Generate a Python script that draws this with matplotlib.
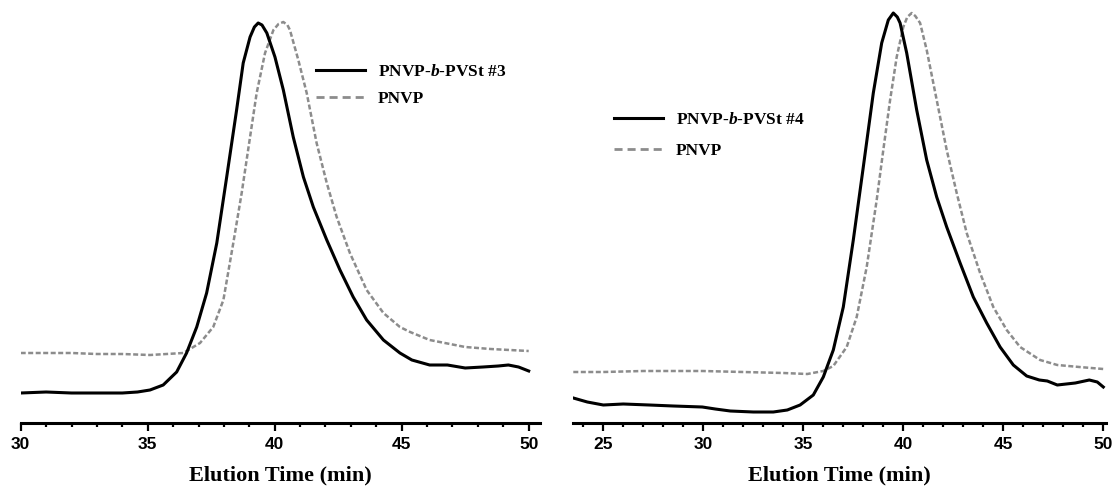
#!/usr/bin/env python3
"""SEC traces: PNVP-b-PVSt block copolymers vs. PNVP precursor."""

import matplotlib

matplotlib.use("Agg")
import matplotlib.pyplot as plt
from matplotlib.lines import Line2D
from matplotlib.ticker import MultipleLocator

# ---- data (elution time in min, detector signal in a.u.) ----
t_bc3 = [30.0, 31.0, 32.0, 33.0, 34.0, 34.6, 35.09, 35.61, 36.14, 36.53, 36.93, 37.32, 37.72,
         38.11, 38.5, 38.76, 39.03, 39.2, 39.35, 39.5, 39.69, 40.01, 40.34, 40.73, 41.13,
         41.52, 42.05, 42.57, 43.09, 43.62, 44.28, 44.93, 45.4, 46.1, 46.8, 47.5, 48.2,
         48.8, 49.2, 49.6, 50.0]
s_bc3 = [30, 31, 30, 30, 30, 31, 33, 38, 51, 70, 96, 130, 180,
         246, 313, 360, 386, 396, 400, 398, 390, 366, 333, 286, 246,
         216, 183, 153, 126, 103, 83, 70, 63, 58, 58, 55, 56,
         57, 58, 56, 52]

t_pnvp_a = [30.0, 31.0, 32.0, 33.0, 34.0, 35.09, 36.4, 37.06, 37.58, 37.98, 38.37, 38.7, 39.03,
            39.29, 39.62, 39.95, 40.15, 40.34, 40.5, 40.6, 40.93, 41.26, 41.65, 42.05, 42.44,
            42.96, 43.62, 44.28, 44.93, 45.33, 46.1, 47.5, 48.5, 50.0]
s_pnvp_a = [70, 70, 70, 69, 69, 68, 70, 80, 96, 123, 180, 230, 286,
            330, 370, 393, 399, 401, 398, 393, 363, 330, 280, 240, 206,
            170, 133, 110, 96, 91, 83, 76, 74, 72]

t_bc4 = [23.5, 24.2, 25.0, 26.0, 27.3, 28.5, 29.95, 30.6, 31.35, 32.5, 33.5, 34.2, 34.84,
         35.5, 36.0, 36.5, 37.0, 37.5, 38.0, 38.5, 38.92, 39.25, 39.5, 39.7, 39.84, 40.17,
         40.67, 41.17, 41.67, 42.17, 42.84, 43.5, 44.17, 44.84, 45.5, 46.17, 46.8, 47.2,
         47.7, 48.6, 49.3, 49.7, 50.0]
s_bc4 = [25, 21, 18, 19, 18, 17, 16, 14, 12, 11, 11, 13, 18,
         28, 46, 73, 116, 183, 256, 330, 380, 403, 410, 406, 400, 370,
         313, 263, 226, 196, 160, 126, 100, 76, 58, 47, 43, 42,
         38, 40, 43, 41, 36]

t_pnvp_b = [23.5, 25.0, 27.0, 29.95, 32.0, 34.0, 35.2, 36.0, 36.5, 37.17, 37.67, 38.17, 38.67,
            39.0, 39.34, 39.67, 40.0, 40.2, 40.42, 40.6, 40.84, 41.17, 41.67, 42.17, 42.67,
            43.17, 43.84, 44.5, 45.17, 45.84, 46.84, 47.7, 48.8, 50.0]
s_pnvp_b = [51, 51, 52, 52, 51, 50, 49, 52, 57, 76, 106, 156, 223,
            273, 323, 366, 396, 406, 410, 407, 400, 373, 323, 273, 230,
            190, 150, 116, 93, 76, 63, 58, 56, 54]

labels_left = ["PNVP-$\\mathit{b}$-PVSt #3", "PNVP"]
labels_right = ["PNVP-$\\mathit{b}$-PVSt #4", "PNVP"]

W, H = 1118, 492
plt.rcParams["mathtext.fontset"] = "custom"
plt.rcParams["mathtext.it"] = "Liberation Serif:italic:bold"
plt.rcParams["mathtext.rm"] = "Liberation Serif:bold"

GRAY = "#8c8c8c"


def px_axes(fig, x0, x1, y_axis):
    return fig.add_axes([x0 / W, (H - y_axis) / H, (x1 - x0) / W, y_axis / H])


def style(ax, xlim):
    ax.set_xlim(*xlim)
    ax.set_ylim(0, 423)
    for s in ("top", "left", "right"):
        ax.spines[s].set_visible(False)
    ax.spines["bottom"].set_linewidth(2.2)
    ax.set_yticks([])
    ax.xaxis.set_major_locator(MultipleLocator(5))
    ax.xaxis.set_minor_locator(MultipleLocator(1))
    ax.tick_params(axis="x", which="major", length=6, width=1.6, pad=4,
                   labelsize=12.5)
    ax.tick_params(axis="x", which="minor", length=3, width=1.6)
    for lab in ax.get_xticklabels():
        lab.set_fontfamily("Liberation Sans")
        lab.set_fontweight("bold")
    ax.set_xlabel("Elution Time (min)", fontfamily="Liberation Serif",
                  fontweight="bold", fontsize=16, labelpad=10)
    ax.patch.set_visible(False)


def add_legend(ax, labels, x, y, spacing):
    handles = [
        Line2D([], [], color="black", lw=2.2),
        Line2D([], [], color=GRAY, lw=2.0, dashes=(2.9, 1.8)),
    ]
    fig = ax.figure
    ax.legend(handles, labels, loc="upper left",
              bbox_to_anchor=(x / W, 1 - y / H), bbox_transform=fig.transFigure,
              frameon=False, borderpad=0, borderaxespad=0, handlelength=2.8,
              handletextpad=0.75, labelspacing=spacing,
              prop={"family": "Liberation Serif", "weight": "bold", "size": 12.5})


fig = plt.figure(figsize=(W / 100, H / 100), dpi=100)

ax1 = px_axes(fig, 20.7, 20.7 + 20.45 * 25.4, 423)
ax1.plot(t_pnvp_a, s_pnvp_a, color=GRAY, lw=1.8, dashes=(2.0, 1.0))
ax1.plot(t_bc3, s_bc3, color="black", lw=2.2)
style(ax1, (30, 50.45))
add_legend(ax1, labels_left, 316, 64, 0.62)

ax2 = px_axes(fig, 572.7, 572.7 + 26.68 * 20.0, 423)
ax2.plot(t_pnvp_b, s_pnvp_b, color=GRAY, lw=1.8, dashes=(2.0, 1.0))
ax2.plot(t_bc4, s_bc4, color="black", lw=2.2)
style(ax2, (23.47, 50.15))
add_legend(ax2, labels_right, 614, 112, 0.87)

fig.savefig("out.png", dpi=100)
